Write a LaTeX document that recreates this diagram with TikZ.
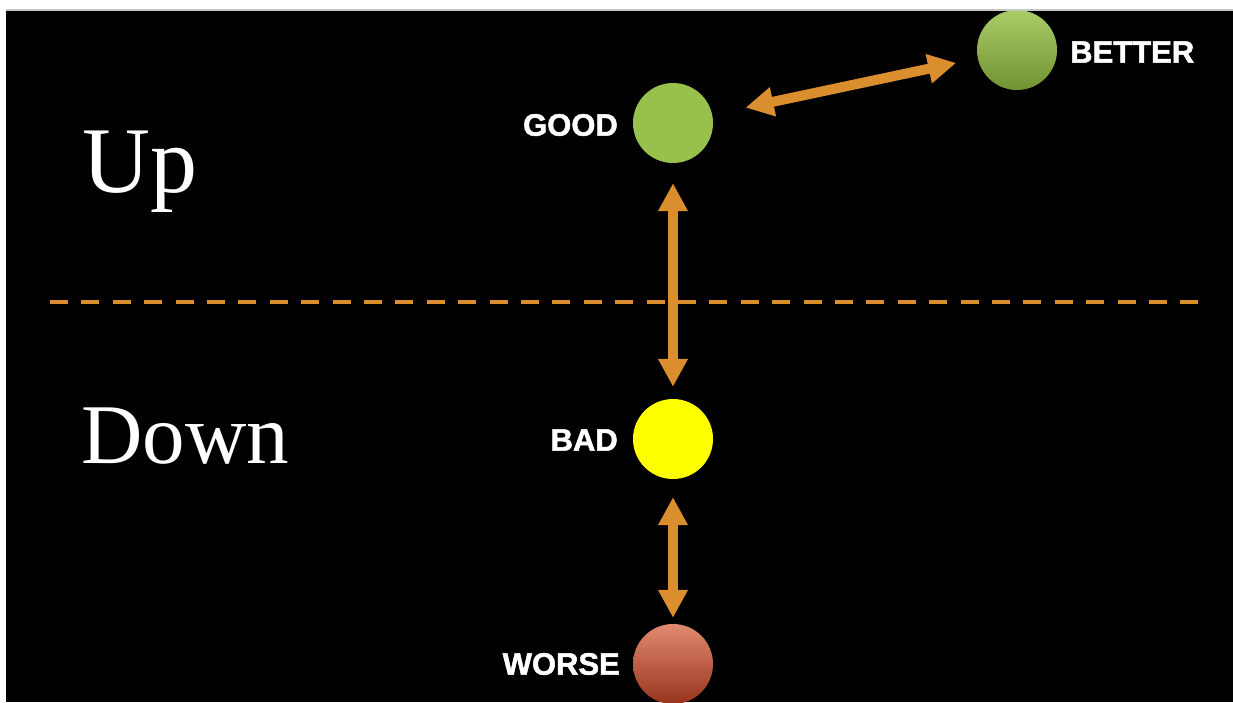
\documentclass[tikz,border=0pt]{standalone}
\usepackage{fontspec}
\setmainfont{Liberation Serif}
\newfontfamily\lblfont[FakeBold=1.6]{Liberation Sans Bold}
\usetikzlibrary{arrows.meta}
\definecolor{arrorange}{RGB}{218,142,46}
\definecolor{goodgreen}{RGB}{152,192,76}
\definecolor{bettertop}{RGB}{170,204,104}
\definecolor{betterbot}{RGB}{112,146,50}
\definecolor{worsetop}{RGB}{226,138,112}
\definecolor{worsemid}{RGB}{205,76,44}
\definecolor{worsebot}{RGB}{150,52,28}
\definecolor{badyellow}{RGB}{255,255,0}
\tikzset{
  ball/.style={circle, minimum size=80pt, inner sep=0pt, draw=none},
  lbl/.style={inner sep=0pt, text=white, font=\lblfont\fontsize{31}{36}\selectfont},
  big/.style={inner sep=0pt, text=white, anchor=base west},
  dbl/.style={draw=arrorange, line width=10pt,
    {Triangle[width=28pt,length=28pt]}-{Triangle[width=28pt,length=28pt]}},
  divider/.style={draw=arrorange, line width=4.5pt, dash pattern=on 18pt off 13.4pt}
}
\begin{document}
\begin{tikzpicture}[x=1pt,y=-1pt]
\useasboundingbox (0,0) rectangle (1233,702);
\fill[white] (0,0) rectangle (1233,702);
\fill[black] (6,11) rectangle (1233,702);
\fill[black!22] (6,9) rectangle (1233,11);
\begin{scope}
\clip (6,11) rectangle (1233,702);
% divider
\coordinate (dl) at (50,302);
\coordinate (dr) at (1200,302);
\draw[divider] (dl) -- (dr);
% circles
\node[ball, fill=goodgreen] (good) at (673,123) {};
\node[ball, top color=bettertop, bottom color=betterbot] (better) at (1017,50) {};
\node[ball, fill=badyellow] (bad) at (673,439) {};
\node[ball, top color=worsetop, middle color=worsemid, bottom color=worsebot] (worse) at (673,664) {};
% labels
\node[lbl, anchor=east] (goodl) at (618,125) {GOOD};
\node[lbl, anchor=west] (betterl) at (1070,52) {BETTER};
\node[lbl, anchor=east] (badl) at (618,440) {BAD};
\node[lbl, anchor=east] (worsel) at (620,664) {WORSE};
% big words
\node[big, font=\fontsize{94}{100}\selectfont] (up) at (82,192) {Up};
\node[big, font=\fontsize{85}{95}\selectfont] (down) at (81,463) {Down};
% arrows
\draw[dbl, shorten <=20pt, shorten >=12pt] (good) -- (bad);
\draw[dbl, shorten <=18pt, shorten >=6pt] (bad) -- (worse);
\draw[dbl, shorten <=34pt, shorten >=22pt] (good) -- (better);
\end{scope}
\end{tikzpicture}
\end{document}
